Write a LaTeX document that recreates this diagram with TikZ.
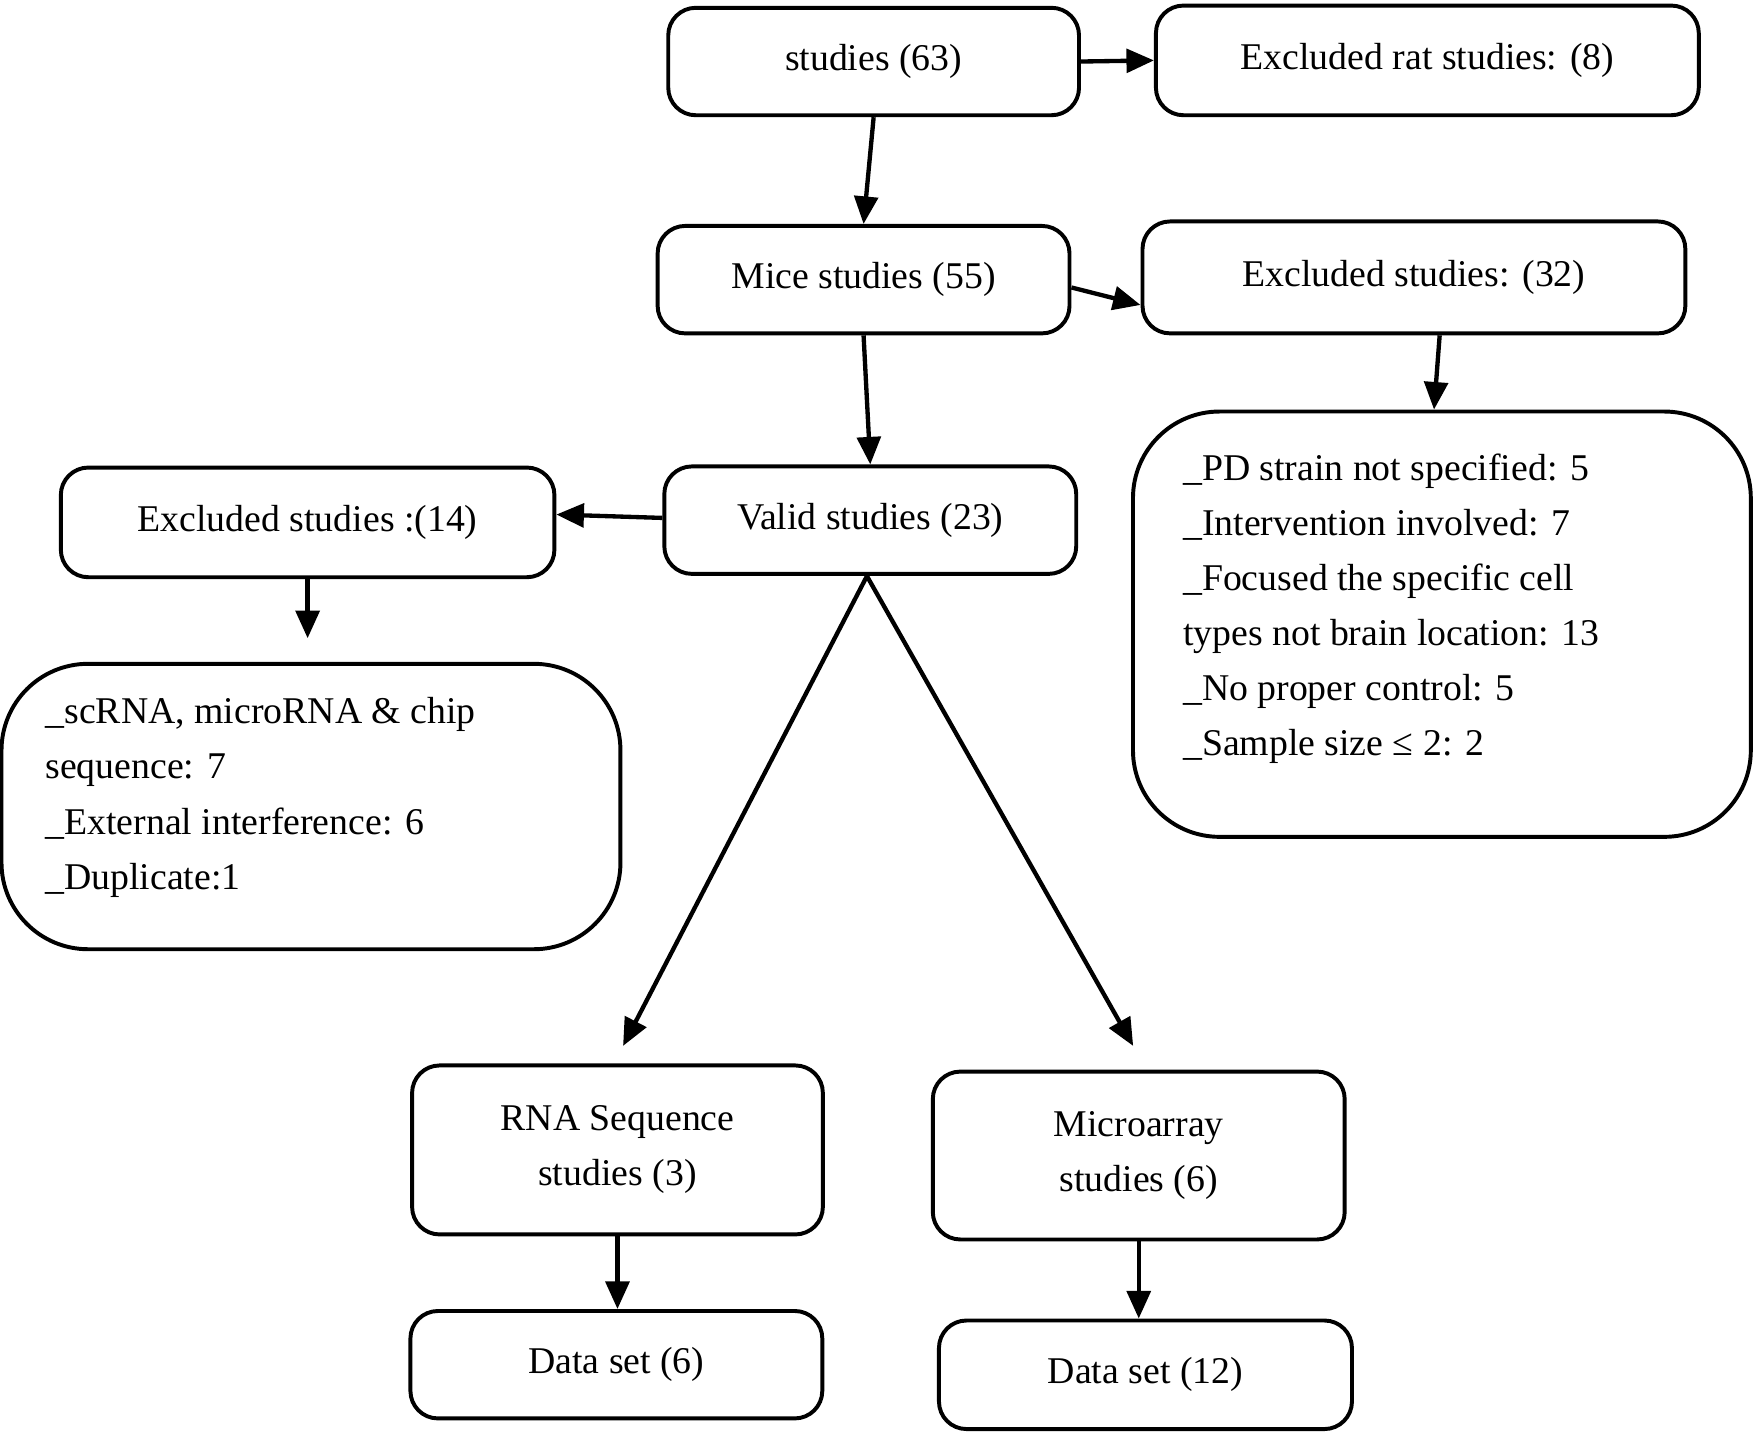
\documentclass[tikz,border=0pt]{standalone}
\usepackage{fontspec}
\setmainfont{Liberation Serif}
\usetikzlibrary{arrows.meta}
\begin{document}
\begin{tikzpicture}[x=0.01cm,y=-0.01cm,
	box/.style={draw,line width=1pt,rounded corners=7pt,align=center,inner sep=0pt},
	listbox/.style={draw,line width=1pt,rounded corners=22pt},
	arr/.style={line width=1.1pt,-{Triangle[length=7pt,width=6pt]}},
	font=\fontsize{9.6}{14}\selectfont]
	\useasboundingbox (0,0) rectangle (1568,1282);
	%top row
	\node[box,minimum width=3.67cm,minimum height=0.96cm] (s63) at (781,55) {studies (63)};
	\node[box,minimum width=4.85cm,minimum height=0.98cm] (rat) at (1276,54) {Excluded rat studies: (8)};
	%mice row
	\node[box,minimum width=3.68cm,minimum height=0.96cm] (mice) at (772,250) {Mice studies (55)};
	\node[box,minimum width=4.85cm,minimum height=1.00cm] (ex32) at (1264,248) {Excluded studies: (32)};
	\node[listbox,minimum width=5.52cm,minimum height=3.80cm] (list32) at (1289,558) {};
	\node[anchor=north west,align=left,inner sep=0pt] (txt32) at (1057,405)
		{\_PD strain not specified: 5\\ \_Intervention involved: 7\\ \_Focused the specific cell\\ types not brain location: 13\\ \_No proper control: 5\\ \_Sample size ≤ 2: 2};
	%valid row
	\node[box,minimum width=3.68cm,minimum height=0.96cm] (valid) at (778,465) {Valid studies (23)};
	\node[box,minimum width=4.41cm,minimum height=0.98cm] (ex14) at (275,467) {Excluded studies :(14)};
	\node[listbox,minimum width=5.53cm,minimum height=2.55cm] (list14) at (278,721) {};
	\node[anchor=north west,align=left,inner sep=0pt] (txt14) at (40,623)
		{\_scRNA, microRNA \& chip\\ sequence: 7\\ \_External interference: 6\\ \_Duplicate:1};
	%bottom
	\node[box,minimum width=3.67cm,minimum height=1.51cm] (rna) at (552,1028) {RNA Sequence\\ studies (3)};
	\node[box,minimum width=3.68cm,minimum height=1.50cm] (micro) at (1018,1033) {Microarray\\ studies (6)};
	\node[box,minimum width=3.68cm,minimum height=0.96cm] (ds6) at (551,1220) {Data set (6)};
	\node[box,minimum width=3.69cm,minimum height=0.97cm] (ds12) at (1024,1229) {Data set (12)};
	\coordinate (split) at (775,515);
	\coordinate (tiprna) at (557,935);
	\coordinate (tipmicro) at (1013,935);
	%arrows
	\draw[arr] (s63.south) -- (mice.north);
	\draw[arr] (s63.east) -- (rat.west);
	\draw[arr] (mice.east) ++(0,7) -- ([yshift=-7]ex32.west);
	\draw[arr] (mice.south) -- (valid.north);
	\draw[arr] (ex32.south -| list32.north) ++(-2,0) -- ([xshift=-2]list32.north);
	\draw[arr] (valid.west) ++(0,-2) -- ([yshift=2]ex14.east);
	\draw[arr] (ex14.south) -- ([yshift=6]list14.north -| ex14.south);
	\draw[arr] (split) -- (tiprna);
	\draw[arr] (split) -- (tipmicro);
	\draw[arr] (rna.south) -- (ds6.north -| rna.south);
	\draw[arr] (micro.south) -- (ds12.north -| micro.south);
\end{tikzpicture}
\end{document}
